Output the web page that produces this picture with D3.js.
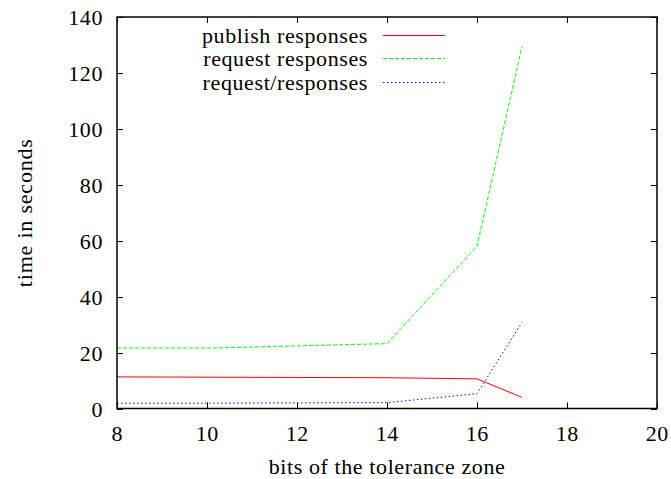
<!DOCTYPE html>
<html>
<head>
<meta charset="utf-8">
<script src="https://cdn.jsdelivr.net/npm/d3@7"></script>
<style>
  body { margin: 0; background: #fff; }
</style>
</head>
<body>
<div id="chart"></div>
<script>
// bits of the tolerance zone
const bits = [8, 10, 12, 14, 16, 17];

// time in seconds per series
const publishResponses = [11.3, 11.2, 11.1, 11.0, 10.6, 4.0];
const requestResponses = [21.6, 21.6, 22.4, 23.2, 58.0, 129.5];
const requestSlashResponses = [1.9, 1.9, 2.0, 2.1, 5.3, 30.8];

const xTicks = [8, 10, 12, 14, 16, 18, 20];
const yTicks = [0, 20, 40, 60, 80, 100, 120, 140];

const series = [
  { name: "publish responses", values: publishResponses, color: "#ff0000", dash: null },
  { name: "request responses", values: requestResponses, color: "#00ff00", dash: "4,2" },
  { name: "request/responses", values: requestSlashResponses, color: "#0000ff", dash: "1.5,2.5" }
];

const width = 671;
const height = 479;
const margin = { top: 17, right: 14, bottom: 71, left: 117 };
const fontSize = 22;
const font = "'Liberation Serif'";
const spacing = 0.6;

const svg = d3.select("#chart").append("svg")
  .attr("width", width)
  .attr("height", height);

const x = d3.scaleLinear()
  .domain([8, 20])
  .range([margin.left, width - margin.right]);

const y = d3.scaleLinear()
  .domain([0, 140])
  .range([height - margin.bottom + 0.5, margin.top]);

const tickLen = 6;

// ticks on all four sides, pointing inward
const g = svg.append("g").attr("stroke", "#000").attr("stroke-width", 1);
xTicks.forEach(t => {
  const px = Math.round(x(t)) + 0.5;
  g.append("line").attr("x1", px).attr("x2", px)
    .attr("y1", y(0)).attr("y2", y(0) - tickLen);
  g.append("line").attr("x1", px).attr("x2", px)
    .attr("y1", y(140)).attr("y2", y(140) + tickLen);
});
yTicks.forEach(t => {
  const py = Math.round(y(t)) + 0.5;
  g.append("line").attr("x1", x(8)).attr("x2", x(8) + tickLen)
    .attr("y1", py).attr("y2", py);
  g.append("line").attr("x1", x(20)).attr("x2", x(20) - tickLen)
    .attr("y1", py).attr("y2", py);
});

function label(sel) {
  return sel.attr("font-family", font)
    .attr("font-size", fontSize)
    .attr("letter-spacing", spacing)
    .attr("fill", "#000");
}

// tick labels
svg.append("g").selectAll("text")
  .data(xTicks)
  .enter().append("text")
  .attr("x", d => x(d) + spacing / 2)
  .attr("y", 441)
  .attr("text-anchor", "middle")
  .call(label)
  .text(d => d);

svg.append("g").selectAll("text")
  .data(yTicks)
  .enter().append("text")
  .attr("x", x(8) - 14)
  .attr("y", d => y(d) + 8)
  .attr("text-anchor", "end")
  .call(label)
  .text(d => d);

// axis titles
svg.append("text")
  .attr("x", (x(8) + x(20)) / 2)
  .attr("y", 474)
  .attr("text-anchor", "middle")
  .call(label)
  .text("bits of the tolerance zone");

svg.append("text")
  .attr("transform", `translate(32,${(y(0) + y(140)) / 2}) rotate(-90)`)
  .attr("text-anchor", "middle")
  .call(label)
  .attr("letter-spacing", 0.8)
  .text("time in seconds");

// lines
const line = d3.line()
  .x((d, i) => x(bits[i]))
  .y(d => y(d));

series.forEach(s => {
  svg.append("path")
    .datum(s.values)
    .attr("d", line)
    .attr("fill", "none")
    .attr("stroke", s.color)
    .attr("stroke-width", 1)
    .attr("stroke-dasharray", s.dash);
});

// frame
svg.append("rect")
  .attr("x", x(8))
  .attr("y", y(140))
  .attr("width", x(20) - x(8))
  .attr("height", y(0) - y(140))
  .attr("fill", "none")
  .attr("stroke", "#000")
  .attr("stroke-width", 1.5);

// legend
const legend = svg.append("g");
series.forEach((s, i) => {
  const ly = 35 + i * 23.3;
  legend.append("text")
    .attr("x", 368)
    .attr("y", ly + 8)
    .attr("text-anchor", "end")
    .call(label)
    .text(s.name);
  legend.append("line")
    .attr("x1", 383).attr("x2", 445)
    .attr("y1", Math.round(ly) + 0.5).attr("y2", Math.round(ly) + 0.5)
    .attr("stroke", s.color)
    .attr("stroke-width", 1)
    .attr("stroke-dasharray", s.dash);
});
</script>
</body>
</html>
